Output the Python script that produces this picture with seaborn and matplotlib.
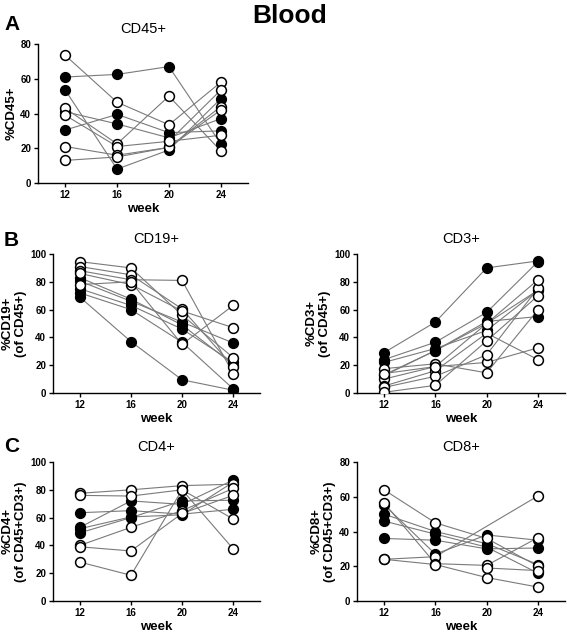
import numpy as np
import pandas as pd
import seaborn as sns
import matplotlib.pyplot as plt

weeks = [12, 16, 20, 24]
nan = np.nan

# each row = one animal, values at weeks 12/16/20/24; filled flag = marker style
cd45_vals = [
    [61, 62.5, 67, 22.5],
    [53.5, 8, 19, 48.5],
    [41, 34, 26, 37],
    [30.5, 39.5, 29, 30],
    [73.5, 46.5, 33.5, 58],
    [43, 22.5, 50, 18.5],
    [39, 21, 24, 53.5],
    [21, 16, 20.5, 44],
    [13, 15, 20.5, 42],
    [nan, nan, 24, 27.5],
]
cd45_filled = [1, 1, 1, 1, 0, 0, 0, 0, 0, 0]

cd19_vals = [
    [69, 37, 9.5, 2],
    [72, 60, 36.5, 3],
    [75, 63, 46, 22],
    [80.5, 66, 51, 36],
    [83, 67.5, 49, 20.5],
    [94.5, 90, 56, 25.5],
    [91, 85, 60.5, 19],
    [88, 81.5, 81, 14],
    [86, 78, 59, 47],
    [78, 80, 35, 63],
]
cd19_filled = [1, 1, 1, 1, 1, 0, 0, 0, 0, 0]

cd3_vals = [
    [29, 51, 90, 95],
    [24, 36.5, 58, 94.5],
    [22, 32, 45, 74],
    [12.5, 30.5, 51.5, 55],
    [13, 30.5, 50, 74],
    [17.5, 21, 14.5, 60],
    [10, 19, 22, 32.5],
    [5, 16, 43, 24],
    [4, 12, 27.5, 75.5],
    [0.5, 5.5, 37.5, 70],
    [14, 19, 50, 81.5],
]
cd3_filled = [1, 1, 1, 1, 1, 0, 0, 0, 0, 0, 0]

cd4_vals = [
    [63.5, 65, 62.5, 66],
    [53, 72, 69.5, 87],
    [49, 60, 72, 72.5],
    [52, 60.5, 62, 85.5],
    [77.5, 80, 83, 84],
    [76, 75.5, 80, 59],
    [40, 53, 65, 81],
    [28, 18.5, 80, 37.5],
    [39, 36, 63, 76],
]
cd4_filled = [1, 1, 1, 1, 0, 0, 0, 0, 0]

cd8_vals = [
    [55.5, 27, 38, 35],
    [50, 40, 33, 21],
    [46, 38.5, 31, 16],
    [36, 35, 30, 30.5],
    [64, 45, 36, 20],
    [24, 25.5, nan, 60.5],
    [56.5, 21.5, 20.5, 36.5],
    [24, 21, 13.5, 8],
    [nan, nan, 19, 17.5],
]
cd8_filled = [1, 1, 1, 1, 0, 0, 0, 0, 0]


def to_long(vals, filled):
    rows = []
    for i, (v, f) in enumerate(zip(vals, filled)):
        for w, y in zip(weeks, v):
            if not np.isnan(y):
                rows.append({"subject": i, "week": w, "value": y, "filled": f})
    return pd.DataFrame(rows)


sns.set_style("ticks")
plt.rcParams['font.family'] = ['Liberation Sans', 'DejaVu Sans']
plt.rcParams.update({
    'axes.linewidth': 1.0,
    'axes.edgecolor': 'black',
    'text.color': 'black',
    'axes.labelcolor': 'black',
    'xtick.color': 'black',
    'ytick.color': 'black',
})

fig = plt.figure(figsize=(5.67, 6.32), dpi=100)

W, H = 567, 632
def box(l, t, r, b):
    return [l / W, 1 - b / H, (r - l) / W, (b - t) / H]

panels = [
    (cd45_vals, cd45_filled, "CD45+", "%CD45+", 80, box(38, 44, 248, 183)),
    (cd19_vals, cd19_filled, "CD19+", "%CD19+\n(of CD45+)", 100, box(53, 254, 260, 393)),
    (cd3_vals, cd3_filled, "CD3+", "%CD3+\n(of CD45+)", 100, box(357, 254, 565, 393)),
    (cd4_vals, cd4_filled, "CD4+", "%CD4+\n(of CD45+CD3+)", 100, box(53, 462, 260, 601)),
    (cd8_vals, cd8_filled, "CD8+", "%CD8+\n(of CD45+CD3+)", 80, box(357, 462, 565, 601)),
]

for vals, filled, title, ylab, ymax, pos in panels:
    ax = fig.add_axes(pos)
    df = to_long(vals, filled)
    sns.lineplot(data=df, x="week", y="value", units="subject", estimator=None,
                 color="#7a7a7a", lw=0.8, ax=ax, legend=False)
    sns.scatterplot(data=df[df.filled == 1], x="week", y="value", color="black",
                    edgecolor="black", s=50, linewidth=1.0, ax=ax, zorder=3)
    sns.scatterplot(data=df[df.filled == 0], x="week", y="value", color="white",
                    edgecolor="black", s=50, linewidth=1.1, ax=ax, zorder=4)
    ax.set_xlim(9.9, 26.1)
    ax.set_ylim(0, ymax)
    ax.set_xticks(weeks)
    ax.set_yticks(np.arange(0, ymax + 1, 20))
    sns.despine(ax=ax)
    ax.tick_params(axis="both", length=3, width=1, labelsize=7, pad=2)
    for lab in ax.get_xticklabels() + ax.get_yticklabels():
        lab.set_fontweight("bold")
    ax.set_xlabel("week", fontsize=9.5, fontweight="bold", labelpad=2)
    ax.set_ylabel(ylab, fontsize=9.5, fontweight="bold", labelpad=2)
    ax.set_title(title, fontsize=10.5, pad=8)

fig.text(290 / W, 1 - 16 / H, "Blood", ha="center", va="center", fontsize=19, fontweight="bold")
fig.text(4 / W, 1 - 24 / H, "A", ha="left", va="center", fontsize=15, fontweight="bold")
fig.text(4 / W, 1 - 240 / H, "B", ha="left", va="center", fontsize=15, fontweight="bold")
fig.text(4 / W, 1 - 447 / H, "C", ha="left", va="center", fontsize=15, fontweight="bold")

fig.savefig("out.png", dpi=100)
